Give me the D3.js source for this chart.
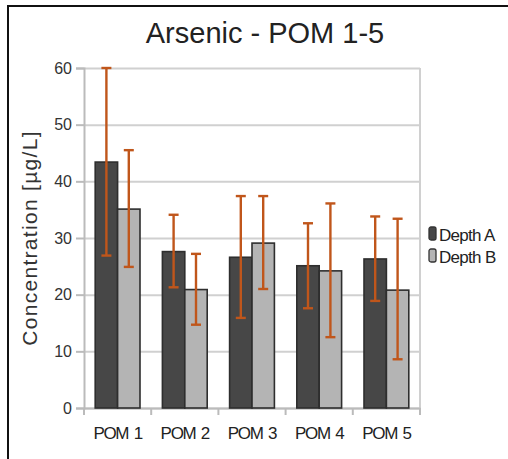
<!DOCTYPE html>
<html>
<head>
<meta charset="utf-8">
<script src="https://cdn.jsdelivr.net/npm/d3@7"></script>
<style>
  body { margin: 0; background: #fff; }
  svg { display: block; font-family: "Liberation Sans", Arial, sans-serif; }
</style>
</head>
<body>
<svg id="chart" width="508" height="459"></svg>
<script>
// data
const categories = ["POM 1", "POM 2", "POM 3", "POM 4", "POM 5"];
const series = ["Depth A", "Depth B"];
const depthA    = [43.4, 27.6, 26.6, 25.1, 26.3];
const depthB    = [35.1, 20.9, 29.1, 24.2, 20.8];
const depthAlow = [26.9, 21.3, 15.9, 17.6, 18.9];
const depthAhigh= [60.0, 34.1, 37.4, 32.6, 33.8];
const depthBlow = [24.9, 14.7, 21.0, 12.5, 8.6];
const depthBhigh= [45.5, 27.2, 37.4, 36.1, 33.4];
const yTicks = [0, 10, 20, 30, 40, 50, 60];

const colors = {"Depth A": "#474747", "Depth B": "#b4b4b4"};

const rows = categories.map((c, i) => ({
  cat: c,
  vals: [
    {s: "Depth A", v: depthA[i], lo: depthAlow[i], hi: depthAhigh[i]},
    {s: "Depth B", v: depthB[i], lo: depthBlow[i], hi: depthBhigh[i]}
  ]
}));

const svg = d3.select("#chart");
const m = {top: 68, left: 84, right: 420, bottom: 408};

// outer frame
svg.append("rect")
  .attr("x", 8).attr("y", 6)
  .attr("width", 520).attr("height", 470)
  .attr("fill", "none").attr("stroke", "#111").attr("stroke-width", 2);

const x = d3.scaleBand()
  .domain(categories)
  .range([m.left, m.right])
  .paddingInner(0).paddingOuter(0);

const xs = d3.scaleBand()
  .domain(series)
  .range([0, x.bandwidth()])
  .paddingInner(0)
  .paddingOuter(0.5);

const y = d3.scaleLinear()
  .domain([0, 60])
  .range([m.bottom, m.top]);

// title
svg.append("text")
  .attr("x", 265).attr("y", 43)
  .attr("text-anchor", "middle")
  .attr("fill", "#222")
  .style("font-size", "29px")
  .text("Arsenic - POM 1-5");

// gridlines
svg.append("g")
  .attr("transform", `translate(${m.left},0)`)
  .call(d3.axisLeft(y).tickValues(yTicks).tickSize(-(m.right - m.left)).tickFormat(""))
  .call(g => g.select(".domain").remove())
  .selectAll("line")
    .attr("stroke", "#d0d0d0").attr("stroke-width", 2);

// right border of plot
svg.append("line")
  .attr("x1", m.right).attr("x2", m.right)
  .attr("y1", m.top).attr("y2", m.bottom)
  .attr("stroke", "#d0d0d0").attr("stroke-width", 2);

// y axis
const yAxis = svg.append("g")
  .attr("transform", `translate(${m.left},0)`)
  .call(d3.axisLeft(y).tickValues(yTicks).tickSize(8).tickPadding(4));
yAxis.select(".domain").attr("stroke", "#bbb").attr("stroke-width", 2);
yAxis.selectAll("line").attr("stroke", "#bbb").attr("stroke-width", 2);
yAxis.selectAll("text").attr("fill", "#333").style("font-size", "16px");

// x axis with ticks at category boundaries
const xAxis = svg.append("g")
  .attr("transform", `translate(0,${m.bottom})`)
  .call(d3.axisBottom(x).tickSize(0).tickPadding(19));
xAxis.select(".domain").attr("stroke", "#bbb").attr("stroke-width", 2);
xAxis.selectAll("text")
  .attr("fill", "#222")
  .style("font-size", "17px")
  .style("letter-spacing", "-1.3px")
  .style("word-spacing", "2px");
xAxis.selectAll(".bound")
  .data(categories.concat(["end"]))
  .enter().append("line")
    .attr("x1", (d, i) => m.left + i * x.step())
    .attr("x2", (d, i) => m.left + i * x.step())
    .attr("y1", 0).attr("y2", 7)
    .attr("stroke", "#bbb").attr("stroke-width", 2);

// bars
const groups = svg.append("g").selectAll("g")
  .data(rows).enter().append("g")
    .attr("transform", d => `translate(${x(d.cat)},0)`);

groups.selectAll("rect")
  .data(d => d.vals).enter().append("rect")
    .attr("x", d => xs(d.s))
    .attr("y", d => y(d.v))
    .attr("width", xs.bandwidth())
    .attr("height", d => y(0) - y(d.v))
    .attr("fill", d => colors[d.s])
    .attr("stroke", "#2e2e2e")
    .attr("stroke-width", 1.6);

// error bars
const err = groups.selectAll("g.err")
  .data(d => d.vals).enter().append("g")
    .attr("class", "err")
    .attr("stroke", "#c0561b")
    .attr("stroke-width", 2.4);

err.append("line")
  .attr("x1", d => xs(d.s) + xs.bandwidth() / 2)
  .attr("x2", d => xs(d.s) + xs.bandwidth() / 2)
  .attr("y1", d => y(d.lo))
  .attr("y2", d => y(d.hi));
err.append("line")
  .attr("x1", d => xs(d.s) + xs.bandwidth() / 2 - 5)
  .attr("x2", d => xs(d.s) + xs.bandwidth() / 2 + 5)
  .attr("y1", d => y(d.hi)).attr("y2", d => y(d.hi));
err.append("line")
  .attr("x1", d => xs(d.s) + xs.bandwidth() / 2 - 5)
  .attr("x2", d => xs(d.s) + xs.bandwidth() / 2 + 5)
  .attr("y1", d => y(d.lo)).attr("y2", d => y(d.lo));

// y label
svg.append("text")
  .attr("transform", `translate(37,238) rotate(-90)`)
  .attr("text-anchor", "middle")
  .attr("fill", "#333")
  .style("font-size", "21px")
  .style("letter-spacing", "1.3px")
  .text("Concentration [µg/L]");

// legend
const legend = svg.append("g")
  .attr("transform", "translate(429,227)");
series.forEach((s, i) => {
  const row = legend.append("g").attr("transform", `translate(0,${i * 22})`);
  row.append("rect")
    .attr("width", 7).attr("height", 13).attr("rx", 2)
    .attr("fill", colors[s]).attr("stroke", "#333").attr("stroke-width", 1.3);
  row.append("text")
    .attr("x", 10).attr("y", 14)
    .attr("fill", "#222")
    .style("font-size", "17px")
    .style("letter-spacing", "-0.7px")
    .text(s);
});
</script>
</body>
</html>
